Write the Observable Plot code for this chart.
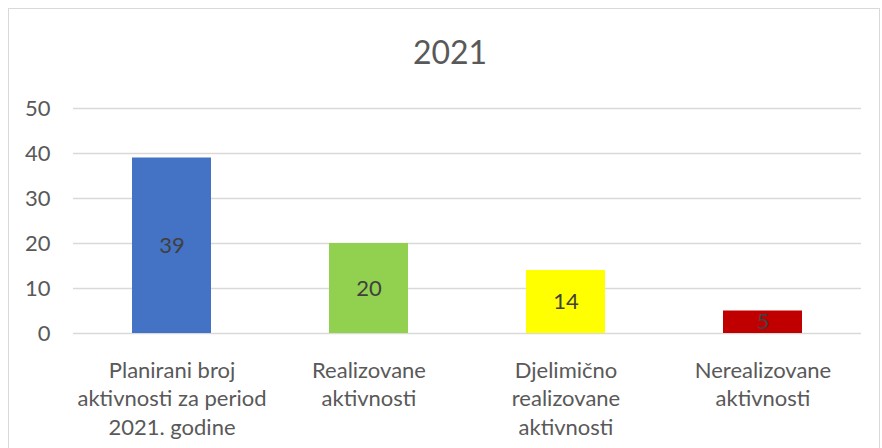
<!DOCTYPE html>
<html>
<head>
<meta charset="utf-8">
<script src="https://cdn.jsdelivr.net/npm/d3@7"></script>
<script src="https://cdn.jsdelivr.net/npm/@observablehq/plot@0.6"></script>
<style>
  body { margin: 0; background: #fff; }
  #wrap { position: relative; width: 882px; height: 448px; overflow: hidden; background: #fff; font-family: Lato, "Open Sans", sans-serif; }
  #frame { position: absolute; left: 8px; top: 8px; width: 872px; height: 470px; border: 1px solid #d9d9d9; box-sizing: border-box; }
  #title { position: absolute; left: 14px; top: 0; width: 872px; height: 104px; line-height: 104px; text-align: center; font-size: 32px; color: #595959; }
  #chart { position: absolute; left: 0; top: 90px; }
</style>
</head>
<body>
<div id="wrap">
  <div id="frame"></div>
  <div id="title">2021</div>
  <div id="chart"></div>
</div>
<script>
const categories = [
  "Planirani broj\naktivnosti za period\n2021. godine",
  "Realizovane\naktivnosti",
  "Djelimično\nrealizovane\naktivnosti",
  "Nerealizovane\naktivnosti"
];
const values = [39, 20, 14, 5];
const colors = ["#4472c4", "#92d050", "#ffff00", "#c00000"];
const yTicks = [0, 10, 20, 30, 40, 50];

const data = categories.map((c, i) => ({cat: c, value: values[i], color: colors[i]}));

const chart = Plot.plot({
  width: 882,
  height: 358,
  marginTop: 18,
  marginBottom: 115,
  marginLeft: 73,
  marginRight: 21,
  style: {fontFamily: "Lato, 'Open Sans', sans-serif", fontSize: "22px", color: "#595959", background: "transparent"},
  x: {domain: categories, paddingInner: 0.6, paddingOuter: 0.3, axis: null},
  y: {domain: [0, 50], ticks: yTicks},
  color: {type: "identity"},
  marks: [
    Plot.gridY(yTicks, {stroke: "#d9d9d9", strokeOpacity: 1, strokeWidth: 1.5}),
    Plot.axisY(yTicks, {tickSize: 0, tickPadding: 23, fontSize: 22, fill: "#595959", label: null}),
    Plot.barY(data, {x: "cat", y: "value", fill: "color"}),
    Plot.text(data, {x: "cat", y: d => d.value / 2, text: d => String(d.value), fontSize: 22, fill: "#404040"}),
    Plot.text(data, {x: "cat", text: "cat", frameAnchor: "bottom", lineAnchor: "top", dy: 24, lineHeight: 1.3, fontSize: 22, fill: "#595959"})
  ]
});
document.getElementById("chart").appendChild(chart);
</script>
</body>
</html>
